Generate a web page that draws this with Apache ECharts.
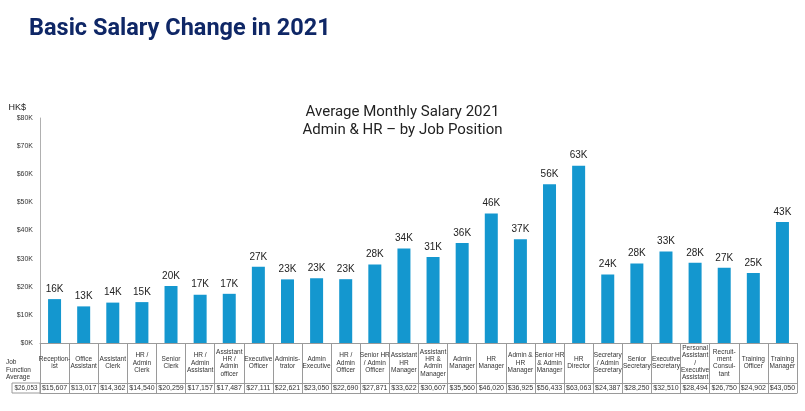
<!DOCTYPE html>
<html>
<head>
<meta charset="utf-8">
<script src="https://cdn.jsdelivr.net/npm/echarts@6/dist/echarts.min.js"></script>
<style>
html,body{margin:0;padding:0;background:#fff;}
#c{width:805px;height:411px;}
</style>
</head>
<body>
<div id="c"></div>
<script>
const categories = [
  "Reception-\nist", "Office\nAssistant", "Assistant\nClerk", "HR /\nAdmin\nClerk", "Senior\nClerk",
  "HR /\nAdmin\nAssistant", "Assistant\nHR /\nAdmin\nofficer", "Executive\nOfficer", "Adminis-\ntrator",
  "Admin\nExecutive", "HR /\nAdmin\nOfficer", "Senior HR\n/ Admin\nOfficer", "Assistant\nHR\nManager",
  "Assistant\nHR &\nAdmin\nManager", "Admin\nManager", "HR\nManager", "Admin &\nHR\nManager",
  "Senior HR\n& Admin\nManager", "HR\nDirector", "Secretary\n/ Admin\nSecretary", "Senior\nSecretary",
  "Executive\nSecretary", "Personal\nAssistant\n/\nExecutive\nAssistant", "Recruit-\nment\nConsul-\ntant",
  "Training\nOfficer", "Training\nManager"
];
const salaries = [15607, 13017, 14362, 14540, 20259, 17157, 17487, 27111, 22621, 23050, 22690, 27871, 33622,
  30607, 35560, 46020, 36925, 56433, 63063, 24387, 28250, 32510, 28494, 26750, 24902, 43050];
const jobFunctionAverage = 26053;
const yTicks = [0, 10000, 20000, 30000, 40000, 50000, 60000, 70000, 80000];

const fmt$ = v => '$' + v.toLocaleString('en-US');
const chart = echarts.init(document.getElementById('c'), null, {renderer: 'canvas'});
const gridLine = '#9a9a9a';
const font = 'Liberation Sans, Arial, sans-serif';

chart.setOption({
  animation: false,
  backgroundColor: '#fff',
  title: [
    {text: 'Basic Salary Change in 2021', left: 24, top: 12,
     textStyle: {fontFamily: 'Roboto', fontWeight: 'bold', fontSize: 23.5, color: '#0f2766'}},
    {text: 'Average Monthly Salary 2021\nAdmin & HR \u2013 by Job Position', left: 'center', top: 98,
     textStyle: {fontFamily: 'Roboto', fontWeight: 'normal', fontSize: 15, lineHeight: 18, color: '#222'}}
  ],
  grid: {left: 40, right: 8, top: 118, bottom: 68, containLabel: false},
  xAxis: [
    {type: 'category', data: categories, position: 'bottom',
     axisLine: {show: true, lineStyle: {color: gridLine, width: 1}},
     axisTick: {show: true, interval: 0, length: 40, lineStyle: {color: gridLine}},
     axisLabel: {interval: 0, margin: 20, verticalAlign: 'middle', fontFamily: font, fontSize: 6.5,
                 lineHeight: 7.3, color: '#333'}},
    {type: 'category', data: salaries.map(fmt$), position: 'bottom', offset: 40,
     axisLine: {show: true, lineStyle: {color: gridLine, width: 1}},
     axisTick: {show: true, interval: 0, length: 10, lineStyle: {color: gridLine}},
     axisLabel: {interval: 0, margin: 5, verticalAlign: 'middle', fontFamily: font, fontSize: 7, color: '#333'}},
    {type: 'category', data: categories, position: 'bottom', offset: 50,
     axisLine: {show: true, lineStyle: {color: gridLine, width: 1}},
     axisTick: {show: false}, axisLabel: {show: false}}
  ],
  yAxis: {
    type: 'value', min: 0, max: 80000, interval: 10000,
    name: 'HK$', nameLocation: 'end', nameGap: 6,
    nameTextStyle: {fontFamily: font, fontSize: 9, color: '#222', align: 'right', padding: [0, 14, 0, 0]},
    axisLine: {show: true, lineStyle: {color: '#b0b0b0'}},
    axisTick: {show: false},
    splitLine: {show: false},
    axisLabel: {fontFamily: font, fontSize: 7, color: '#333', margin: 7,
                formatter: v => yTicks.includes(v) ? '$' + (v / 1000) + 'K' : ''}
  },
  series: [{
    type: 'bar', data: salaries, xAxisIndex: 0, barWidth: 13,
    itemStyle: {color: '#1497cf'},
    label: {show: true, position: 'top', distance: 5, fontFamily: font, fontSize: 10, color: '#222',
            formatter: p => Math.round(p.value / 1000) + 'K'}
  }],
  graphic: [
    {type: 'text', left: 6, top: 359,
     style: {text: 'Job\nFunction\nAverage', fontFamily: font, fontSize: 6.5, lineHeight: 7.3, fill: '#333', align: 'center', x: 17}},
    {type: 'rect', shape: {x: 12, y: 383, width: 28, height: 10},
     style: {fill: 'none', stroke: gridLine, lineWidth: 1}},
    {type: 'text', x: 26, y: 388,
     style: {text: fmt$(jobFunctionAverage), fontFamily: font, fontSize: 6.3, fill: '#333', align: 'center', verticalAlign: 'middle'}}
  ]
});
</script>
</body>
</html>
